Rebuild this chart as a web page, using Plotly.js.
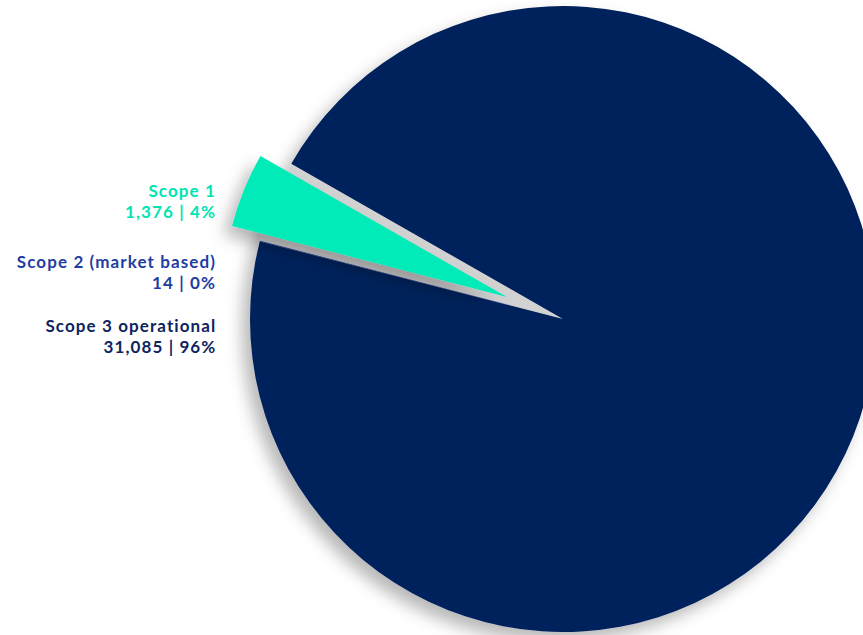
<!DOCTYPE html>
<html>
<head>
<meta charset="utf-8">
<script src="https://cdn.plot.ly/plotly-3.0.1.min.js"></script>
<style>
html,body{margin:0;padding:0;overflow:hidden;background:#ffffff;}
#chart{width:1000px;height:700px;}
#chart .annotation-text{letter-spacing:1.1px;}
</style>
</head>
<body>
<div id="chart"></div>
<script>
// ---- data ----
const categories = ["Scope 1", "Scope 2 (market based)", "Scope 3 operational"];
const values = [1376, 14, 31085];
const valueLabels = ["1,376", "14", "31,085"];
const percentLabels = ["4%", "0%", "96%"];

// ---- styles ----
const sliceColors = ["#00EBB7", "#1D3D9F", "#00205B"];
const gapColor = "#D2D2D2";
const labelColors = ["#00E4B2", "#1F3DA0", "#0E2460"];

const W = 1000, H = 700;
function dom(cx, cy, r) {
  return { x: [(cx - r) / W, (cx + r) / W], y: [1 - (cy + r) / H, 1 - (cy - r) / H] };
}
const ROT = -75.5;

const bgTrace = {
  type: "pie",
  labels: categories,
  values: values,
  sort: false,
  direction: "counterclockwise",
  rotation: ROT,
  marker: { colors: [gapColor, sliceColors[1], sliceColors[2]], line: { width: 0 } },
  textinfo: "none",
  hoverinfo: "label+value+percent",
  showlegend: false,
  domain: dom(563, 319, 313)
};

const sliceTrace = {
  type: "pie",
  labels: categories,
  values: values,
  sort: false,
  direction: "counterclockwise",
  rotation: ROT,
  marker: { colors: [sliceColors[0], "rgba(0,0,0,0)", "rgba(0,0,0,0)"], line: { width: 0 } },
  textinfo: "none",
  hoverinfo: "skip",
  showlegend: false,
  domain: dom(507, 297, 284)
};

// label block centres (px from top); line spacing = 1.3 * base font size
const labelY = [201, 271.5, 336];
const annotations = categories.map(function (c, i) {
  return {
    xref: "paper", yref: "paper", x: 217 / W, y: 1 - labelY[i] / H,
    xanchor: "right", yanchor: "middle", showarrow: false, align: "right",
    borderpad: 0,
    text: '<span style="font-size:17px">' + c + '<br>' + valueLabels[i] + " | " + percentLabels[i] + '</span>',
    font: { family: "Lato, sans-serif", size: 15.8, color: labelColors[i], weight: 700 }
  };
});

const layout = {
  width: W, height: H,
  margin: { l: 0, r: 0, t: 0, b: 0, pad: 0 },
  paper_bgcolor: "#ffffff",
  plot_bgcolor: "#ffffff",
  showlegend: false,
  annotations: annotations
};

Plotly.newPlot("chart", [bgTrace, sliceTrace], layout, { displayModeBar: false, staticPlot: true }).then(function () {
  const svg = document.querySelector("#chart .main-svg");
  const NS = "http://www.w3.org/2000/svg";
  let defs = svg.querySelector("defs");
  if (!defs) { defs = document.createElementNS(NS, "defs"); svg.insertBefore(defs, svg.firstChild); }
  const f = document.createElementNS(NS, "filter");
  f.setAttribute("id", "pieShadow");
  f.setAttribute("x", "-20%"); f.setAttribute("y", "-20%");
  f.setAttribute("width", "140%"); f.setAttribute("height", "140%");
  const ds = document.createElementNS(NS, "feDropShadow");
  ds.setAttribute("dx", "-8"); ds.setAttribute("dy", "9");
  ds.setAttribute("stdDeviation", "8");
  ds.setAttribute("flood-color", "#000000");
  ds.setAttribute("flood-opacity", "0.28");
  f.appendChild(ds);
  defs.appendChild(f);
  document.querySelectorAll("#chart .pielayer .trace").forEach(function (g) {
    g.setAttribute("filter", "url(#pieShadow)");
  });
});
</script>
</body>
</html>
